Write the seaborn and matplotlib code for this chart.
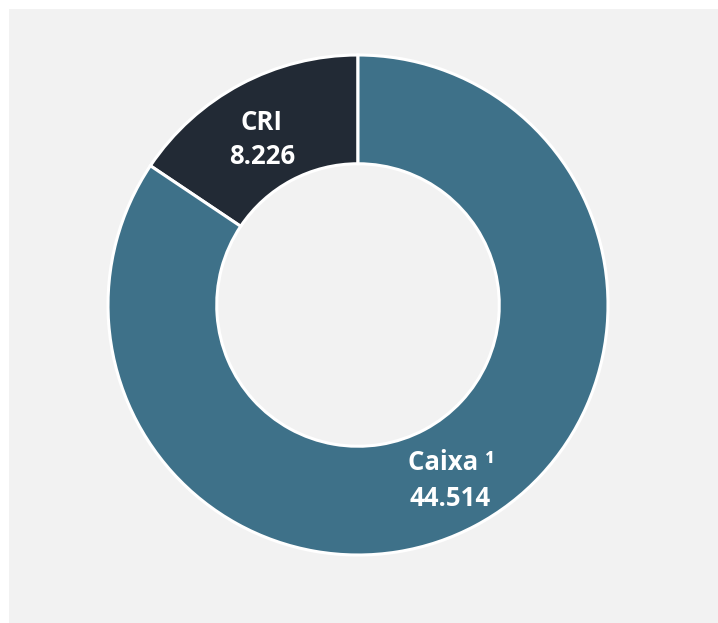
import matplotlib
matplotlib.use("Agg")
import matplotlib.pyplot as plt
import seaborn as sns
from matplotlib.patches import Rectangle

# === data ===
labels = ["CRI", "Caixa \u00b9"]
values = [8226, 44514]
value_text = ["8.226", "44.514"]
colors = ["#222a35", "#3e7189"]

# label positions (data coords, pie radius = 1)
label_xy = [(-0.384, 0.732), (0.372, -0.630)]
value_xy = [(-0.384, 0.596), (0.368, -0.772)]

sns.set_theme(style="white")
plt.rcParams["font.family"] = ["Open Sans", "DejaVu Sans"]

fig = plt.figure(figsize=(7.18, 6.23), dpi=100)
fig.patch.set_facecolor("white")

# gray panel behind the chart
fig.patches.append(Rectangle((9 / 718, 0), 1, 1 - 9 / 623, transform=fig.transFigure,
                             facecolor="#f2f2f2", edgecolor="none", zorder=-10))

ax = fig.add_axes([108 / 718, (623 - 555) / 623, 500 / 718, 500 / 623])
ax.set_zorder(5)
ax.set_facecolor("none")

wedges, _ = ax.pie(
    values,
    colors=colors,
    startangle=90,
    counterclock=True,
    radius=1.0,
    wedgeprops=dict(width=0.435, edgecolor="white", linewidth=2.2),
)

for name, val, (lx, ly), (vx, vy) in zip(labels, value_text, label_xy, value_xy):
    ax.text(lx, ly, name, ha="center", va="center", color="white",
            fontsize=18.5, fontweight="bold")
    ax.text(vx, vy, val, ha="center", va="center", color="white",
            fontsize=18.5, fontweight="bold")

ax.set_xlim(-1.0, 1.0)
ax.set_ylim(-1.0, 1.0)
ax.set_aspect("equal")
ax.axis("off")

fig.savefig("out.png", dpi=100, facecolor=fig.get_facecolor())
